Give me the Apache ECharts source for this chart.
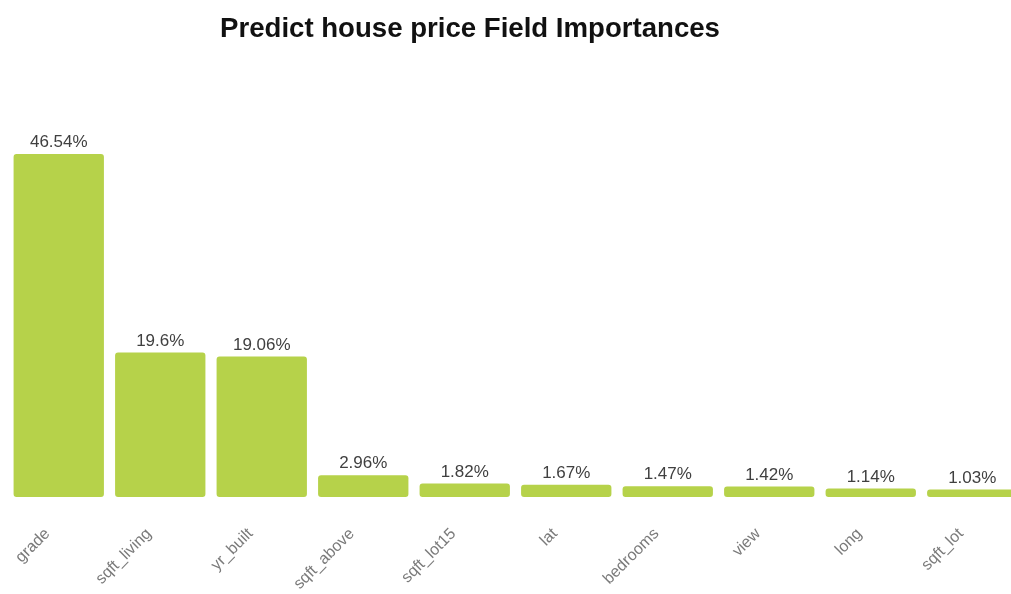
<!DOCTYPE html>
<html>
<head>
<meta charset="utf-8">
<script src="https://cdn.jsdelivr.net/npm/echarts@6/dist/echarts.min.js"></script>
<style>
  html, body { margin: 0; padding: 0; background: #fff; }
  #chart { width: 1011px; height: 594px; }
</style>
</head>
<body>
<div id="chart"></div>
<script>
// Field importance (percent) for the house price model
const fields = ['grade', 'sqft_living', 'yr_built', 'sqft_above', 'sqft_lot15', 'lat', 'bedrooms', 'view', 'long', 'sqft_lot'];
const importances = [46.54, 19.6, 19.06, 2.96, 1.82, 1.67, 1.47, 1.42, 1.14, 1.03];
const chartTitle = 'Predict house price Field Importances';

const FONT = 'Liberation Sans, Arial, sans-serif';

const chart = echarts.init(document.getElementById('chart'), null, { renderer: 'canvas' });
chart.setOption({
  animation: false,
  title: {
    text: chartTitle,
    left: 465,
    top: 10,
    textAlign: 'center',
    textStyle: { fontFamily: FONT, fontSize: 27.6, fontWeight: 'bold', color: '#111' }
  },
  // the plot runs slightly past the right edge, so the last bar is cut off
  grid: { left: 8, top: 128.5, width: 1015, height: 368.5, containLabel: false, outerBoundsMode: 'none' },
  xAxis: {
    type: 'category',
    data: fields,
    axisLine: { show: false },
    axisTick: { show: false },
    axisLabel: {
      rotate: 45,
      interval: 0,
      margin: 23,
      padding: [0, 16, 0, 0],
      color: '#7a7a7a',
      fontSize: 16,
      fontFamily: FONT
    }
  },
  yAxis: { type: 'value', min: 0, max: 50, show: false, splitLine: { show: false } },
  series: [{
    type: 'bar',
    data: importances,
    barCategoryGap: '11%',
    itemStyle: { color: '#b6d24a', borderRadius: 3 },
    label: {
      show: true,
      position: 'top',
      distance: 3,
      color: '#404040',
      fontSize: 17,
      fontFamily: FONT,
      formatter: p => p.value + '%'
    }
  }]
});
</script>
</body>
</html>
